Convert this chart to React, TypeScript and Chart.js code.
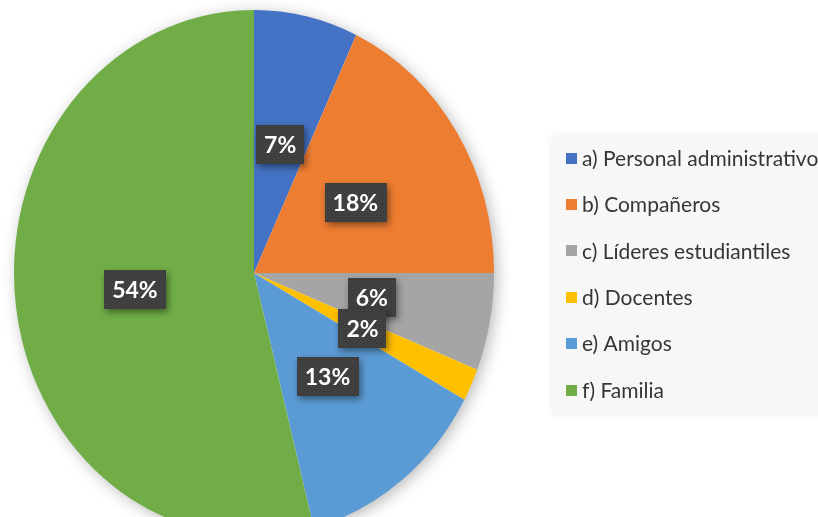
import React, { useEffect, useRef } from "react";
import { Chart, registerables } from "chart.js";

Chart.register(...registerables);

const categories = [
  "a) Personal administrativo",
  "b) Compañeros",
  "c) Líderes estudiantiles",
  "d) Docentes",
  "e) Amigos",
  "f) Familia",
];
const percentages = [7, 18, 6, 2, 13, 54];
const sliceColors = ["#4472C4", "#ED7D31", "#A5A5A5", "#FFC000", "#5B9BD5", "#70AD47"];

const SY = 1.096; // vertical stretch of the pie as in the reference

function makeDotPattern(ctx: CanvasRenderingContext2D) {
  const c = document.createElement("canvas");
  c.width = 4;
  c.height = 4;
  const p = c.getContext("2d")!;
  p.fillStyle = "#3d3d3d";
  p.fillRect(0, 0, 4, 4);
  p.fillStyle = "#4f4f4f";
  p.fillRect(0, 0, 1, 1);
  p.fillRect(2, 2, 1, 1);
  return ctx.createPattern(c, "repeat");
}

const stretchPlugin = {
  id: "stretch",
  beforeDatasetsDraw(chart: any) {
    const ctx = chart.ctx as CanvasRenderingContext2D;
    const arc = chart.getDatasetMeta(0).data[0];
    if (!arc) return;
    const { x, y, outerRadius } = arc.getProps(["x", "y", "outerRadius"], true);
    ctx.save();
    ctx.save();
    ctx.shadowColor = "rgba(0,0,0,0.30)";
    ctx.shadowBlur = 16;
    ctx.shadowOffsetX = 3;
    ctx.shadowOffsetY = 3;
    ctx.fillStyle = "#ffffff";
    ctx.beginPath();
    ctx.ellipse(x, y, outerRadius - 1, outerRadius * SY - 1, 0, 0, Math.PI * 2);
    ctx.fill();
    ctx.restore();
    ctx.translate(x, y);
    ctx.scale(1, SY);
    ctx.translate(-x, -y);
  },
  afterDatasetsDraw(chart: any) {
    chart.ctx.restore();
  },
};

const overlayPlugin = {
  id: "overlay",
  afterDraw(chart: any) {
    const ctx = chart.ctx as CanvasRenderingContext2D;
    const meta = chart.getDatasetMeta(0);
    const vals = chart.data.datasets[0].data as number[];
    const labs = chart.data.labels as string[];
    const cols = chart.data.datasets[0].backgroundColor as string[];

    const pattern = makeDotPattern(ctx);
    ctx.save();
    ctx.font = "bold 23px Lato";
    ctx.textAlign = "center";
    ctx.textBaseline = "middle";
    meta.data.forEach((arc: any, i: number) => {
      const { x, y, startAngle, endAngle, outerRadius } = arc.getProps(
        ["x", "y", "startAngle", "endAngle", "outerRadius"],
        true
      );
      const mid = (startAngle + endAngle) / 2;
      const r = outerRadius * 0.5;
      const lx = x + Math.cos(mid) * r;
      const ly = y + Math.sin(mid) * r * SY;
      const text = vals[i] + "%";
      const w = ctx.measureText(text).width + 16;
      const h = 39;
      ctx.save();
      ctx.shadowColor = "rgba(0,0,0,0.45)";
      ctx.shadowBlur = 7;
      ctx.shadowOffsetX = 2;
      ctx.shadowOffsetY = 3;
      ctx.fillStyle = pattern || "#3d3d3d";
      ctx.fillRect(Math.round(lx - w / 2), Math.round(ly - h / 2), Math.round(w), h);
      ctx.restore();
      ctx.fillStyle = "#ffffff";
      ctx.fillText(text, lx, ly + 1);
    });
    ctx.restore();

    ctx.save();
    const bx = 553, by = 137, bw = 280, bh = 276;
    ctx.shadowColor = "rgba(0,0,0,0.10)";
    ctx.shadowBlur = 8;
    ctx.fillStyle = "#F7F7F7";
    ctx.fillRect(bx, by, bw, bh);
    ctx.shadowColor = "transparent";
    ctx.font = "21px Lato";
    ctx.textBaseline = "middle";
    ctx.textAlign = "left";
    labs.forEach((lab, i) => {
      const cy = 158 + i * 46.4;
      ctx.fillStyle = cols[i];
      ctx.fillRect(566, Math.round(cy - 5.5), 11, 11);
      ctx.fillStyle = "#363636";
      ctx.fillText(lab, 582, cy + 1);
    });
    ctx.restore();
  },
};

export default function App() {
  const ref = useRef<HTMLCanvasElement | null>(null);
  useEffect(() => {
    document.body.style.margin = "0";
    document.body.style.background = "#ffffff";
    const chart = new Chart(ref.current!, {
      type: "pie",
      data: {
        labels: categories,
        datasets: [
          {
            data: percentages,
            backgroundColor: sliceColors,
            borderWidth: 0,
            clip: false as any,
          },
        ],
      },
      options: {
        responsive: false,
        animation: false,
        layout: { padding: { left: 14, top: 33, right: 324, bottom: 4 } },
        plugins: { legend: { display: false }, tooltip: { enabled: false } },
      },
      plugins: [stretchPlugin, overlayPlugin],
    });
    return () => chart.destroy();
  }, []);
  return (
    <div style={{ width: 818, height: 517, background: "#fff" }}>
      <canvas ref={ref} width={818} height={517} style={{ display: "block" }} />
    </div>
  );
}
